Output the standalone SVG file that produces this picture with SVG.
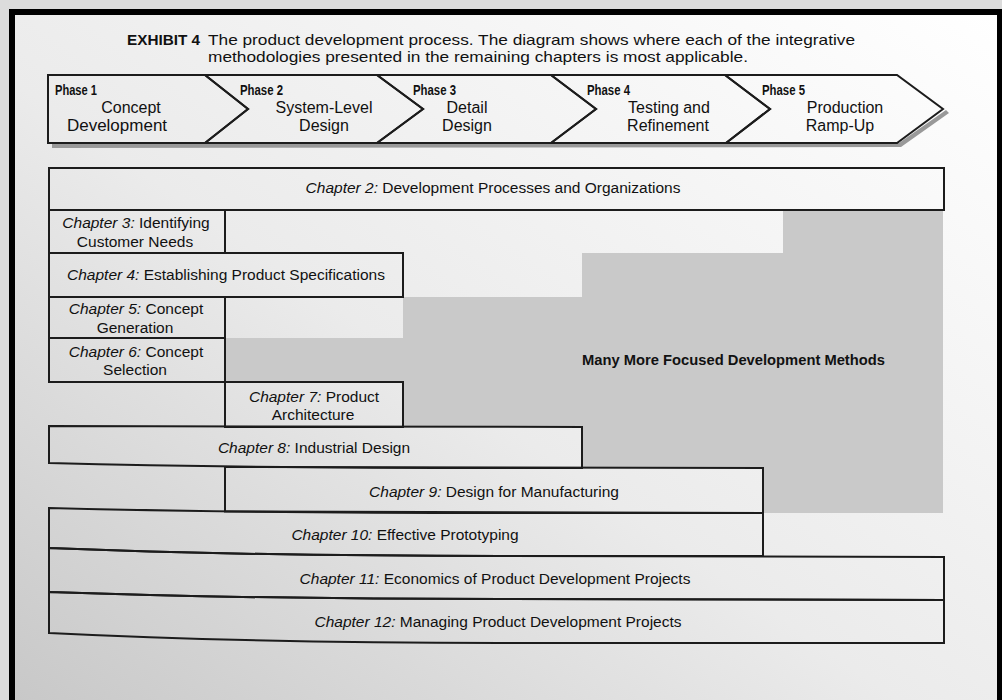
<svg xmlns="http://www.w3.org/2000/svg" width="1002" height="700" viewBox="0 0 1002 700">
<defs>
<linearGradient id="paper" x1="0" y1="1" x2="1" y2="0">
<stop offset="0" stop-color="#c8c8c8"/>
<stop offset="0.45" stop-color="#ebebeb"/>
<stop offset="1" stop-color="#ffffff"/>
</linearGradient>
<style>
.ln{fill:none;stroke:#1c1c1c;stroke-width:2;stroke-linejoin:miter}
.ph{fill:none;stroke:#1c1c1c;stroke-width:2;stroke-linejoin:miter}
text{font-family:"Liberation Sans",Arial,sans-serif;fill:#111}
.cap{font-size:15px}
.capb{font-size:15px;font-weight:bold}
.pn{font-size:14px;font-weight:bold}
.pt{font-size:16px}
.ch{font-size:15.5px;text-anchor:middle}
.it{font-style:italic}
.many{font-size:14.7px;font-weight:bold}
</style>
</defs>
<rect x="0" y="0" width="1002" height="700" fill="#dcdcdc"/>
<rect x="9" y="9" width="993" height="691" fill="#000"/>
<rect x="15" y="15" width="982" height="685" fill="url(#paper)"/>

<g id="caption">
<text class="capb" x="127" y="45" textLength="73" lengthAdjust="spacingAndGlyphs">EXHIBIT 4</text>
<text class="cap" x="208" y="45" textLength="647" lengthAdjust="spacingAndGlyphs">The product development process. The diagram shows where each of the integrative</text>
<text class="cap" x="208" y="62" textLength="540" lengthAdjust="spacingAndGlyphs">methodologies presented in the remaining chapters is most applicable.</text>
</g>

<g id="focused-region">
<polygon points="783,210 943,210 943,513 763,513 763,468 582,468 582,427 403,427 403,382 225,382 225,338 403,338 403,297 582,297 582,253 783,253" fill="#c9c9c9"/>
<text class="many" x="582" y="365" textLength="303" lengthAdjust="spacingAndGlyphs">Many More Focused Development Methods</text>
</g>

<g id="phase-shadow">
<polygon points="52,143 899,143 946,110 949,113 901,147 52,148" fill="#999"/>
</g>

<g id="phase1">
<polygon class="ph" points="48,75 205,75 248,109 205,143 48,143"/>
<text class="pn" x="55" y="95" textLength="42" lengthAdjust="spacingAndGlyphs">Phase 1</text>
<text class="pt" x="131" y="113" text-anchor="middle">Concept</text>
<text class="pt" x="117" y="131" text-anchor="middle" style="font-size:17px">Development</text>
</g>
<g id="phase2">
<polygon class="ph" points="205,75 377,75 423,109 377,143 205,143 248,109"/>
<text class="pn" x="240" y="95" textLength="43" lengthAdjust="spacingAndGlyphs">Phase 2</text>
<text class="pt" x="324" y="113" text-anchor="middle">System-Level</text>
<text class="pt" x="324" y="131" text-anchor="middle">Design</text>
</g>
<g id="phase3">
<polygon class="ph" points="377,75 551,75 596,109 551,143 377,143 423,109"/>
<text class="pn" x="413" y="95" textLength="43" lengthAdjust="spacingAndGlyphs">Phase 3</text>
<text class="pt" x="467" y="113" text-anchor="middle">Detail</text>
<text class="pt" x="467" y="131" text-anchor="middle">Design</text>
</g>
<g id="phase4">
<polygon class="ph" points="551,75 725,75 770,109 726,143 551,143 596,109"/>
<text class="pn" x="587" y="95" textLength="43" lengthAdjust="spacingAndGlyphs">Phase 4</text>
<text class="pt" x="669" y="113" text-anchor="middle">Testing and</text>
<text class="pt" x="668" y="131" text-anchor="middle">Refinement</text>
</g>
<g id="phase5">
<polygon class="ph" points="725,75 897,75 943,109 897,143 726,143 770,109"/>
<text class="pn" x="762" y="95" textLength="43" lengthAdjust="spacingAndGlyphs">Phase 5</text>
<text class="pt" x="845" y="113" text-anchor="middle">Production</text>
<text class="pt" x="840" y="131" text-anchor="middle">Ramp-Up</text>
</g>

<g id="ch2">
<rect class="ln" x="49" y="168" width="895" height="42"/>
<text class="ch" x="493" y="193"><tspan class="it">Chapter 2:</tspan> Development Processes and Organizations</text>
</g>
<g id="ch3">
<rect class="ln" x="49" y="210" width="176" height="43"/>
<text class="ch" x="136" y="228"><tspan class="it">Chapter 3:</tspan> Identifying</text>
<text class="ch" x="135" y="247">Customer Needs</text>
</g>
<g id="ch4">
<rect class="ln" x="49" y="253" width="354" height="44"/>
<text class="ch" x="226" y="280"><tspan class="it">Chapter 4:</tspan> Establishing Product Specifications</text>
</g>
<g id="ch5">
<rect class="ln" x="49" y="297" width="176" height="41"/>
<text class="ch" x="136" y="314"><tspan class="it">Chapter 5:</tspan> Concept</text>
<text class="ch" x="135" y="333">Generation</text>
</g>
<g id="ch6">
<rect class="ln" x="49" y="338" width="176" height="44"/>
<text class="ch" x="136" y="357"><tspan class="it">Chapter 6:</tspan> Concept</text>
<text class="ch" x="135" y="375">Selection</text>
</g>
<g id="ch7">
<rect class="ln" x="225" y="382" width="178" height="45"/>
<text class="ch" x="314" y="402"><tspan class="it">Chapter 7:</tspan> Product</text>
<text class="ch" x="313" y="420">Architecture</text>
</g>
<g id="ch8">
<path class="ln" d="M49,426 L582,427 L582,468 L500,468 Q250,468 49,463 Z"/>
<text class="ch" x="314" y="453"><tspan class="it">Chapter 8:</tspan> Industrial Design</text>
</g>
<g id="ch9">
<path class="ln" d="M225,467 L763,468 L763,513 L225,511.5 Z"/>
<text class="ch" x="494" y="497"><tspan class="it">Chapter 9:</tspan> Design for Manufacturing</text>
</g>
<g id="ch10">
<path class="ln" d="M49,508 Q250,513 500,513 L763,513 L763,556 L500,556 Q250,556 49,548 Z"/>
<text class="ch" x="405" y="540"><tspan class="it">Chapter 10:</tspan> Effective Prototyping</text>
</g>
<g id="ch11">
<path class="ln" d="M49,548 Q250,556 500,556 L944,557 L944,600 L500,599 Q250,599 49,592 Z"/>
<text class="ch" x="495" y="584"><tspan class="it">Chapter 11:</tspan> Economics of Product Development Projects</text>
</g>
<g id="ch12">
<path class="ln" d="M49,592 Q250,599 500,599 L944,600 L944,643 L500,643 Q250,643 49,633 Z"/>
<text class="ch" x="498" y="627"><tspan class="it">Chapter 12:</tspan> Managing Product Development Projects</text>
</g>
<g id="connectors"></g>
</svg>
